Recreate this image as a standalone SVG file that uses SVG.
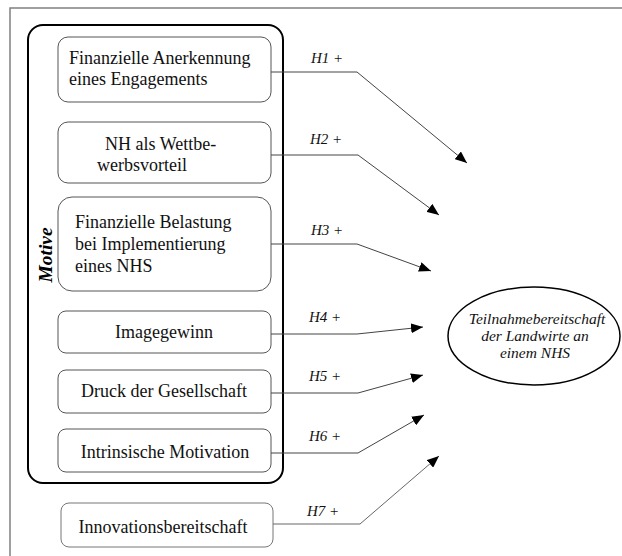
<svg xmlns="http://www.w3.org/2000/svg" width="622" height="556" viewBox="0 0 622 556">
<style>
.box{fill:#fff;stroke:#555;stroke-width:1}
.t{font-family:"Liberation Serif","Times New Roman",serif;font-size:18px;fill:#111}
.c{text-anchor:middle}
.lab{font-family:"Liberation Serif","Times New Roman",serif;font-size:15px;font-style:italic;fill:#111}
.con{fill:none;stroke:#444;stroke-width:1}
</style>
<defs>
<marker id="arr" viewBox="0 0 12 10" refX="12" refY="5" markerWidth="12" markerHeight="10" markerUnits="userSpaceOnUse" orient="auto">
<path d="M0,0 L12,5 L0,10 Z" fill="#000"/>
</marker>
</defs>
<rect width="622" height="556" fill="#fff"/>
<path d="M10,556 V8 H622" fill="none" stroke="#808080" stroke-width="1.5"/>
<g id="motive">
<rect x="28" y="25" width="255" height="458" rx="15" fill="none" stroke="#000" stroke-width="2"/>
<text transform="translate(52,255) rotate(-90)" text-anchor="middle" style="font-family:'Liberation Serif','Times New Roman',serif;font-size:19.5px;font-weight:bold;font-style:italic">Motive</text>
</g>
<g id="n1">
<rect class="box" x="58" y="37" width="213" height="65" rx="10"/>
<text class="t" x="69" y="64">Finanzielle Anerkennung</text>
<text class="t" x="69" y="85">eines Engagements</text>
</g>
<g id="n2">
<rect class="box" x="58" y="122" width="213" height="61" rx="10"/>
<text class="t" x="105" y="150">NH als Wettbe-</text>
<text class="t" x="97" y="171">werbsvorteil</text>
</g>
<g id="n3">
<rect class="box" x="58" y="197" width="213" height="94" rx="14"/>
<text class="t" x="75" y="228">Finanzielle Belastung</text>
<text class="t" x="75" y="250">bei Implementierung</text>
<text class="t" x="75" y="272">eines NHS</text>
</g>
<g id="n4">
<rect class="box" x="58" y="311" width="213" height="42" rx="8"/>
<text class="t c" x="164" y="338">Imagegewinn</text>
</g>
<g id="n5">
<rect class="box" x="58" y="370" width="213" height="43" rx="8"/>
<text class="t c" x="164" y="397">Druck der Gesellschaft</text>
</g>
<g id="n6">
<rect class="box" x="58" y="429" width="213" height="43" rx="8"/>
<text class="t c" x="165" y="458">Intrinsische Motivation</text>
</g>
<g id="n7">
<rect class="box" x="61" y="503" width="212" height="44" rx="8" style="stroke:#777"/>
<text class="t c" x="163" y="533">Innovationsbereitschaft</text>
</g>
<g id="target">
<ellipse cx="534" cy="336" rx="86" ry="49" fill="#fff" stroke="#000" stroke-width="1.5"/>
<text class="lab c" x="537" y="324" style="font-size:15.5px">Teilnahmebereitschaft</text>
<text class="lab c" x="535" y="341" style="font-size:15.5px">der Landwirte an</text>
<text class="lab c" x="535" y="358" style="font-size:15.5px">einem NHS</text>
</g>
<g id="connectors">
<path class="con" d="M271,72 H357 L467,163" marker-end="url(#arr)"/>
<path class="con" d="M271,155 H358 L439,215" marker-end="url(#arr)"/>
<path class="con" d="M271,244 H357 L431,271" marker-end="url(#arr)"/>
<path class="con" d="M271,334 H357 L423,327" marker-end="url(#arr)"/>
<path class="con" d="M271,393 H358 L423,375" marker-end="url(#arr)"/>
<path class="con" d="M271,453 H358 L424,415" marker-end="url(#arr)"/>
<path class="con" d="M273,524 H360 L439,456" marker-end="url(#arr)" style="stroke:#666"/>
<text class="lab" x="311" y="63">H1 +</text>
<text class="lab" x="310" y="144">H2 +</text>
<text class="lab" x="311" y="235">H3 +</text>
<text class="lab" x="309" y="322">H4 +</text>
<text class="lab" x="309" y="381">H5 +</text>
<text class="lab" x="309" y="441">H6 +</text>
<text class="lab" x="307" y="516">H7 +</text>
</g>
</svg>
